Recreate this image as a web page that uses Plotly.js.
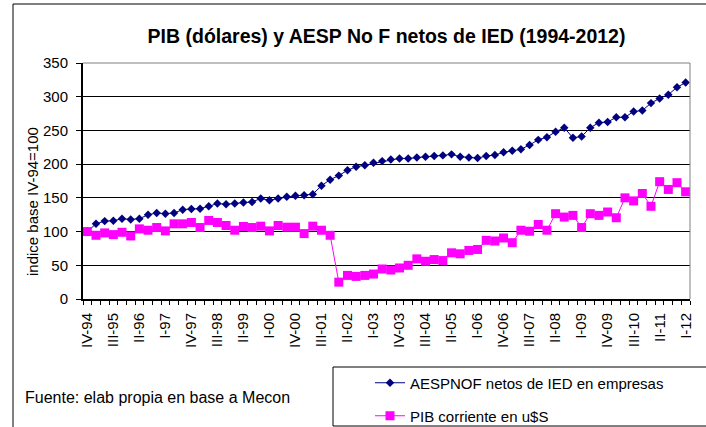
<!DOCTYPE html>
<html>
<head>
<meta charset="utf-8">
<script src="https://cdn.plot.ly/plotly-3.0.1.min.js"></script>
<style>
  html, body { margin: 0; padding: 0; background: #fff; }
  #chart { width: 706px; height: 427px; }
</style>
</head>
<body>
<div id="chart"></div>
<script>
// Quarterly categories IV-94 .. I-12
const quarters = [
  "IV-94",
  "I-95","II-95","III-95","IV-95",
  "I-96","II-96","III-96","IV-96",
  "I-97","II-97","III-97","IV-97",
  "I-98","II-98","III-98","IV-98",
  "I-99","II-99","III-99","IV-99",
  "I-00","II-00","III-00","IV-00",
  "I-01","II-01","III-01","IV-01",
  "I-02","II-02","III-02","IV-02",
  "I-03","II-03","III-03","IV-03",
  "I-04","II-04","III-04","IV-04",
  "I-05","II-05","III-05","IV-05",
  "I-06","II-06","III-06","IV-06",
  "I-07","II-07","III-07","IV-07",
  "I-08","II-08","III-08","IV-08",
  "I-09","II-09","III-09","IV-09",
  "I-10","II-10","III-10","IV-10",
  "I-11","II-11","III-11","IV-11",
  "I-12"
];

// Labels shown on the axis (every third quarter)
const tickLabels = ["IV-94","III-95","II-96","I-97","IV-97","III-98","II-99","I-00",
  "IV-00","III-01","II-02","I-03","IV-03","III-04","II-05","I-06","IV-06","III-07",
  "II-08","I-09","IV-09","III-10","II-11","I-12"];

// AESPNOF netos de IED en empresas (index, IV-94 = 100)
const aespnof = [
  100, 111.5, 115.5, 116, 119, 118, 119, 125, 127.5, 126.5,
  127.5, 132.5, 133.5, 134, 137.5, 141.5, 140.5, 141.5, 143, 144,
  149, 146.5, 149, 151.5, 153, 154, 155.5, 168, 177, 183,
  191, 196, 198.5, 202, 204.5, 207, 208.5, 208.5, 210, 211,
  212, 213, 214.5, 211, 210, 209, 212, 213.5, 217.5, 220,
  222, 228.5, 236, 240, 248, 254, 239, 241, 254, 261.5,
  262.5, 269.5, 269.5, 278, 279.5, 290.5, 297.5, 303, 314, 321
];

// PIB corriente en u$S (index, IV-94 = 100)
const pib = [
  100, 94.5, 98, 95.5, 99, 93.5, 104, 102, 106, 101,
  111.5, 111.5, 113.5, 106, 116.5, 113.5, 109, 102, 107.5, 106,
  108, 101, 109, 106.5, 106.5, 97, 108, 102, 94.5, 25,
  35, 33.5, 35, 37, 44.5, 43, 46, 50, 59.5, 56,
  58.5, 57, 68.5, 67, 72, 73.5, 87, 86, 90.5, 83.5,
  102, 100.5, 110.5, 102, 126.5, 121.5, 124, 106, 126.5, 124,
  129, 120.5, 150, 145.5, 156.5, 137.5, 174, 162.5, 172.5, 159
];

const FONT = "Liberation Sans, Arial, Helvetica, sans-serif";

const tickText = quarters.map(q => tickLabels.includes(q) ? q : "");

// Layout geometry (pixels) -> paper coords
const W = 706, H = 427;
const L = 83, R = 690, T = 63, B = 299;
const px = x => (x - L) / (R - L);
const py = y => (B - y) / (B - T);

const traces = [
  {
    x: quarters, y: aespnof, type: "scatter", mode: "lines+markers",
    name: "AESPNOF netos de IED en empresas",
    line: { color: "#000080", width: 1 },
    marker: { symbol: "diamond", size: 6.5, color: "#000080" },
    legend: "legend"
  },
  {
    x: quarters, y: pib, type: "scatter", mode: "lines+markers",
    name: "PIB corriente en u$S",
    line: { color: "#FF00FF", width: 1 },
    marker: { symbol: "square", size: 9, color: "#FF00FF" },
    legend: "legend2"
  }
];

const layout = {
  width: W, height: H,
  margin: { l: L, r: W - R, t: T, b: H - B, pad: 0, autoexpand: false },
  paper_bgcolor: "#fff", plot_bgcolor: "#fff",
  font: { family: FONT, size: 15, color: "#000" },
  title: {
    text: "<b>PIB (dólares) y AESP No F netos de IED (1994-2012)</b>",
    font: { family: FONT, size: 19.5, color: "#000" },
    x: 0.5, xref: "paper", xanchor: "center",
    y: 1 - 36 / H, yref: "container", yanchor: "middle"
  },
  xaxis: {
    type: "category",
    tickmode: "array", tickvals: quarters, ticktext: tickText,
    tickson: "boundaries",
    ticks: "outside", ticklen: 4, tickwidth: 1, tickcolor: "#000",
    tickangle: -90, ticklabelstandoff: 6,
    tickfont: { family: FONT, size: 15, color: "#000" },
    showline: true, linecolor: "#000", linewidth: 2,
    showgrid: false, zeroline: false, automargin: false,
    range: [-0.5, quarters.length - 0.5]
  },
  yaxis: {
    range: [0, 350], dtick: 50, tick0: 0,
    ticks: "outside", ticklen: 5, tickwidth: 1, tickcolor: "#000",
    ticklabelstandoff: 5,
    tickfont: { family: FONT, size: 15, color: "#000" },
    showline: true, linecolor: "#000", linewidth: 2,
    showgrid: true, gridcolor: "#000", gridwidth: 1,
    zeroline: false, automargin: false
  },
  showlegend: true,
  legend: {
    x: px(370), xanchor: "left", y: py(383), yanchor: "middle",
    bgcolor: "rgba(0,0,0,0)", borderwidth: 0,
    font: { family: FONT, size: 15, color: "#000" }
  },
  legend2: {
    x: px(370), xanchor: "left", y: py(416), yanchor: "middle",
    bgcolor: "rgba(0,0,0,0)", borderwidth: 0,
    font: { family: FONT, size: 15, color: "#000" }
  },
  shapes: [
    // outer chart border (left + top visible)
    { type: "rect", xref: "paper", yref: "paper",
      x0: px(13), x1: px(740), y0: py(460), y1: py(4),
      line: { color: "#000", width: 1 }, fillcolor: "rgba(0,0,0,0)", layer: "below" },
    // plot area border top & right (gray)
    { type: "line", xref: "paper", yref: "paper", x0: 0, x1: 1, y0: 1, y1: 1,
      line: { color: "#808080", width: 1 } },
    { type: "line", xref: "paper", yref: "paper", x0: 1, x1: 1, y0: 0, y1: 1,
      line: { color: "#808080", width: 1 } },
    // legend box
    { type: "rect", xref: "paper", yref: "paper",
      x0: px(333), x1: px(740), y0: py(426), y1: py(367),
      line: { color: "#000", width: 1 }, fillcolor: "rgba(0,0,0,0)" }
  ],
  annotations: [
    { text: "indice base IV-94=100", textangle: -90, showarrow: false,
      xref: "paper", yref: "paper", x: px(32), y: py(201),
      xanchor: "center", yanchor: "middle",
      font: { family: FONT, size: 15, color: "#000" } },
    { text: "Fuente: elab propia en base a Mecon", showarrow: false,
      xref: "paper", yref: "paper", x: px(23), y: py(397),
      xanchor: "left", yanchor: "middle",
      font: { family: FONT, size: 16, color: "#000" } }
  ]
};

Plotly.newPlot("chart", traces, layout, { staticPlot: true, displayModeBar: false });
</script>
</body>
</html>
